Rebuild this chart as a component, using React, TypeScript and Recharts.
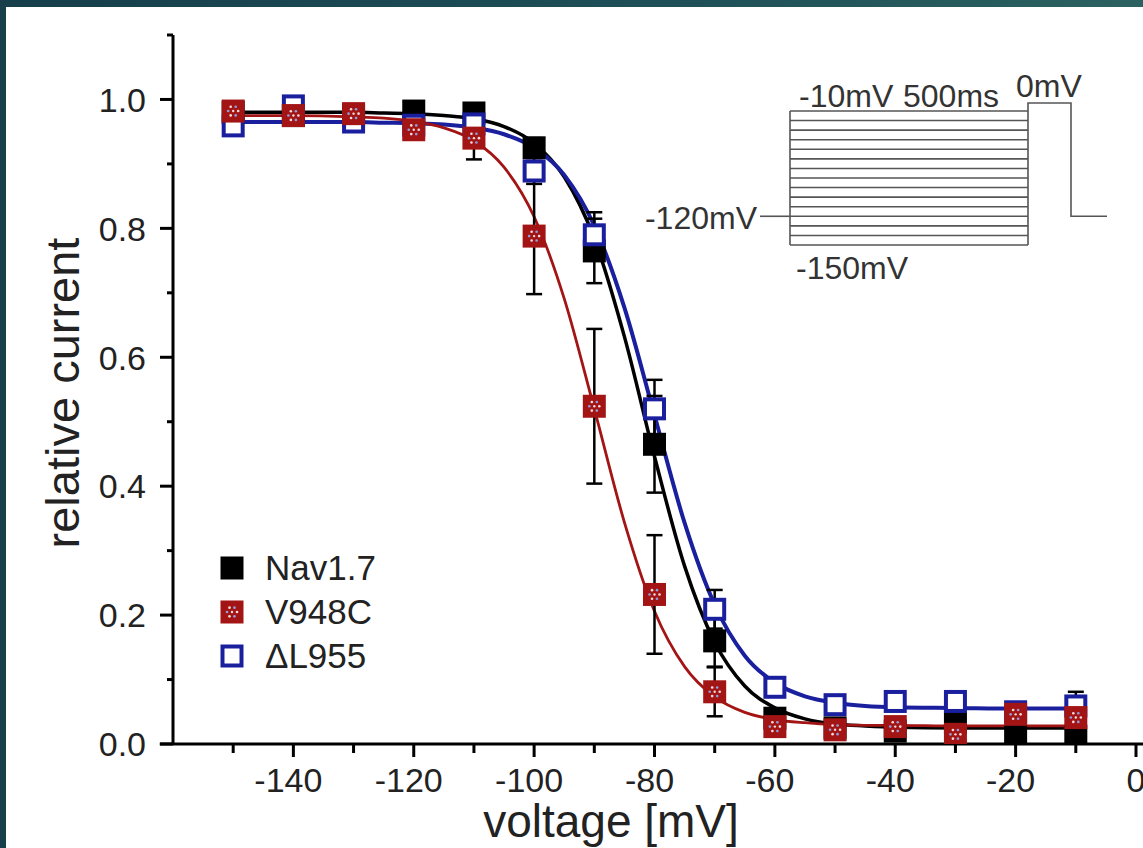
import { ComposedChart, Line, Scatter, XAxis, YAxis, ErrorBar, Legend, ReferenceLine } from 'recharts';

// steady-state inactivation, prepulse voltage in mV
const voltages = [-150, -140, -130, -120, -110, -100, -90, -80, -70, -60, -50, -40, -30, -20, -10];

const nav17 = [0.98, 0.975, 0.976, 0.982, 0.979, 0.925, 0.765, 0.465, 0.16, 0.04, 0.025, 0.02, 0.033, 0.012, 0.012];
const nav17Err = [0.01, 0.01, 0.01, 0.01, 0.01, 0.015, 0.05, 0.075, 0.04, 0.012, 0.008, 0.008, 0.01, 0.008, 0.01];

const v948c = [0.982, 0.975, 0.978, 0.953, 0.94, 0.788, 0.524, 0.232, 0.081, 0.027, 0.022, 0.027, 0.015, 0.046, 0.041];
const v948cErr = [0.01, 0.01, 0.01, 0.01, 0.033, 0.09, 0.12, 0.092, 0.038, 0.01, 0.008, 0.008, 0.008, 0.01, 0.01];

const dl955 = [0.959, 0.99, 0.965, 0.96, 0.962, 0.889, 0.79, 0.52, 0.209, 0.088, 0.061, 0.066, 0.066, 0.05, 0.059];
const dl955Err = [0.01, 0.008, 0.01, 0.01, 0.01, 0.02, 0.035, 0.045, 0.03, 0.012, 0.01, 0.01, 0.01, 0.01, 0.022];

// Boltzmann fit curves
const fitVoltages = [-150, -140, -130, -125, -120, -115, -110, -105, -100, -95, -90, -85, -80, -75, -70, -65, -60, -55, -50, -45, -40, -30, -20, -10];
const nav17Fit = [0.98, 0.98, 0.98, 0.979, 0.978, 0.975, 0.97, 0.958, 0.932, 0.88, 0.784, 0.632, 0.446, 0.276, 0.158, 0.09, 0.056, 0.039, 0.031, 0.028, 0.026, 0.025, 0.025, 0.025];
const v948cFit = [0.975, 0.975, 0.973, 0.971, 0.966, 0.956, 0.936, 0.895, 0.818, 0.691, 0.52, 0.344, 0.206, 0.12, 0.073, 0.049, 0.038, 0.033, 0.03, 0.029, 0.029, 0.028, 0.028, 0.028];
const dl955Fit = [0.965, 0.965, 0.965, 0.964, 0.963, 0.961, 0.956, 0.946, 0.925, 0.883, 0.804, 0.677, 0.51, 0.343, 0.216, 0.137, 0.095, 0.074, 0.064, 0.059, 0.057, 0.056, 0.055, 0.055];

const xTicks = [-150, -140, -130, -120, -110, -100, -90, -80, -70, -60, -50, -40, -30, -20, -10, 0];
const yTicks = [0, 0.1, 0.2, 0.3, 0.4, 0.5, 0.6, 0.7, 0.8, 0.9, 1.0, 1.1];

// inset protocol: prepulse steps
const prepulseSteps = [-10, -20, -30, -40, -50, -60, -70, -80, -90, -100, -110, -120, -130, -140, -150];

const FONT = '"Liberation Sans", Arial, Helvetica, sans-serif';
const BLACK = '#000000';
const RED = '#a31515';
const BLUE = '#1a1f9e';

const points = (vals: number[], errs: number[]) => voltages.map((v, i) => ({ v, r: vals[i], e: errs[i] }));
const fit = (vals: number[]) => fitVoltages.map((v, i) => ({ v, f: vals[i] }));

const nav17Data = points(nav17, nav17Err);
const v948cData = points(v948c, v948cErr);
const dl955Data = points(dl955, dl955Err);

const BlackSquare = ({ cx, cy }: any) => (
  <rect x={cx - 11.5} y={cy - 11.5} width={23} height={23} fill={BLACK} />
);

const BlueSquare = ({ cx, cy }: any) => (
  <rect x={cx - 9.5} y={cy - 9.5} width={19} height={19} fill="#ffffff" stroke={BLUE} strokeWidth={4} />
);

const RedSquare = ({ cx, cy }: any) => {
  const dots = [0, 60, 120, 180, 240, 300].map((a, i) => {
    const rad = (a * Math.PI) / 180;
    return (
      <circle key={i} cx={cx + 5 * Math.cos(rad)} cy={cy + 5 * Math.sin(rad)} r={1.3}
        fill={i % 2 ? '#8fa0e0' : '#f4dada'} />
    );
  });
  return (
    <g>
      <rect x={cx - 11.5} y={cy - 11.5} width={23} height={23} fill={RED} />
      {dots}
      <circle cx={cx} cy={cy} r={1.2} fill="#f4dada" />
    </g>
  );
};

const XTick = ({ x, y, payload }: any) => {
  const v = payload.value;
  const major = v % 20 === 0;
  return (
    <g>
      <line x1={x} y1={y} x2={x} y2={y + (major ? 13 : 9)} stroke={BLACK} strokeWidth={3} />
      {major && (
        <text x={x} y={y + 48} dx={v < 0 ? -5 : 0} textAnchor="middle" fontSize={34} fontFamily={FONT} fill="#222">
          {String(v)}
        </text>
      )}
    </g>
  );
};

const YTick = ({ x, y, payload }: any) => {
  const v = payload.value;
  const major = Math.round(v * 10) % 2 === 0;
  return (
    <g>
      <line x1={x} y1={y} x2={x - (major ? 13 : 6)} y2={y} stroke={BLACK} strokeWidth={3} />
      {major && v <= 1.0 && (
        <text x={x - 27} y={y} dy="0.36em" textAnchor="end" fontSize={34} fontFamily={FONT} fill="#222">
          {v.toFixed(1)}
        </text>
      )}
    </g>
  );
};

const legendRows = [
  { name: 'Nav1.7', Marker: BlackSquare },
  { name: 'V948C', Marker: RedSquare },
  { name: '\u0394L955', Marker: BlueSquare },
];

const LegendBox = () => (
  <div style={{ fontFamily: FONT }}>
    {legendRows.map(({ name, Marker }) => (
      <div key={name} style={{ display: 'flex', alignItems: 'center', height: 44 }}>
        <svg width={28} height={28} style={{ display: 'block' }}>
          <Marker cx={14} cy={14} />
        </svg>
        <span style={{ marginLeft: 19, fontSize: 35, color: '#222', lineHeight: '44px' }}>{name}</span>
      </div>
    ))}
  </div>
);

// voltage protocol sketch in the upper right
const Protocol = () => {
  const left = 790;
  const right = 1028;
  const top = 111;
  const bottom = 245;
  const stepY = (mv: number) => top + ((-10 - mv) / 140) * (bottom - top);
  const hold = stepY(-120);
  const gray = '#555';
  const textStyle = { fontFamily: FONT, fontSize: 32, fill: '#333' };
  return (
    <svg width={1143} height={848} style={{ position: 'absolute', left: 0, top: 0, pointerEvents: 'none' }}>
      {prepulseSteps.map((mv) => (
        <line key={mv} x1={left} x2={right} y1={stepY(mv)} y2={stepY(mv)} stroke={gray} strokeWidth={1.6} />
      ))}
      <line x1={left} x2={left} y1={top} y2={bottom} stroke={gray} strokeWidth={1.6} />
      <line x1={760} x2={left} y1={hold} y2={hold} stroke={gray} strokeWidth={1.6} />
      <polyline points={`${right},${bottom} ${right},103 1071,103 1071,${hold} 1107,${hold}`}
        fill="none" stroke={gray} strokeWidth={1.6} />
      <text x={799} y={107} {...textStyle}>-10mV</text>
      <text x={903} y={107} {...textStyle}>500ms</text>
      <text x={1016} y={97} {...textStyle}>0mV</text>
      <text x={757} y={229} textAnchor="end" {...textStyle}>-120mV</text>
      <text x={796} y={279} {...textStyle}>-150mV</text>
    </svg>
  );
};

export default function App() {
  return (
    <div style={{
      position: 'absolute', left: 0, top: 0, width: 1143, height: 848, overflow: 'hidden',
      background: 'linear-gradient(90deg, #163e4b 0%, #1f5058 60%, #2b6260 100%)',
    }}>
      <div style={{ position: 'absolute', left: 6, top: 7, right: 0, bottom: 0, background: '#ffffff' }} />
      <div style={{ position: 'absolute', left: 0, top: 0 }}>
        <ComposedChart width={1143} height={848} margin={{ top: 35, right: 7, left: 0, bottom: 0 }}>
          <XAxis type="number" dataKey="v" domain={[-160, 0]} ticks={xTicks} interval={0}
            axisLine={false} tickLine={false} tickSize={0} tickMargin={0} height={104} tick={<XTick />} />
          <YAxis type="number" domain={[0, 1.1]} ticks={yTicks} interval={0} allowDataOverflow
            axisLine={{ stroke: BLACK, strokeWidth: 3 }} tickLine={false} tickSize={0} tickMargin={0}
            width={173} tick={<YTick />} />
          <ReferenceLine segment={[{ x: -162.2, y: 0 }, { x: 1.5, y: 0 }]} stroke={BLACK} strokeWidth={3} ifOverflow="visible" />

          <Line data={fit(nav17Fit)} dataKey="f" type="monotone" stroke={BLACK} strokeWidth={3.5}
            dot={false} activeDot={false} isAnimationActive={false} legendType="none" />
          <Line data={fit(dl955Fit)} dataKey="f" type="monotone" stroke={BLUE} strokeWidth={4}
            dot={false} activeDot={false} isAnimationActive={false} legendType="none" />
          <Line data={fit(v948cFit)} dataKey="f" type="monotone" stroke={RED} strokeWidth={2.8}
            dot={false} activeDot={false} isAnimationActive={false} legendType="none" />

          <Scatter name="Nav1.7" data={nav17Data} dataKey="r" shape={<BlackSquare />} isAnimationActive={false}>
            <ErrorBar dataKey="e" direction="y" width={8} stroke={BLACK} strokeWidth={2.5} />
          </Scatter>
          <Scatter name={'\u0394L955'} data={dl955Data} dataKey="r" shape={<BlueSquare />} isAnimationActive={false}>
            <ErrorBar dataKey="e" direction="y" width={8} stroke={BLACK} strokeWidth={2.5} />
          </Scatter>
          <Scatter name="V948C" data={v948cData} dataKey="r" shape={<RedSquare />} isAnimationActive={false}>
            <ErrorBar dataKey="e" direction="y" width={8} stroke={BLACK} strokeWidth={2.5} />
          </Scatter>

          <Legend layout="vertical" align="center" verticalAlign="middle" content={() => <LegendBox />}
            wrapperStyle={{ left: 218, top: 546, width: 220, height: 132 }} />
        </ComposedChart>
      </div>
      <Protocol />
      <svg width={1143} height={848} style={{ position: 'absolute', left: 0, top: 0, pointerEvents: 'none' }}>
        <text x={79} y={393} transform="rotate(-90 79 393)" textAnchor="middle" fontSize={47} fontFamily={FONT} fill="#222">
          relative current
        </text>
        <text x={611} y={837} textAnchor="middle" fontSize={46} fontFamily={FONT} fill="#222">
          voltage [mV]
        </text>
      </svg>
    </div>
  );
}
